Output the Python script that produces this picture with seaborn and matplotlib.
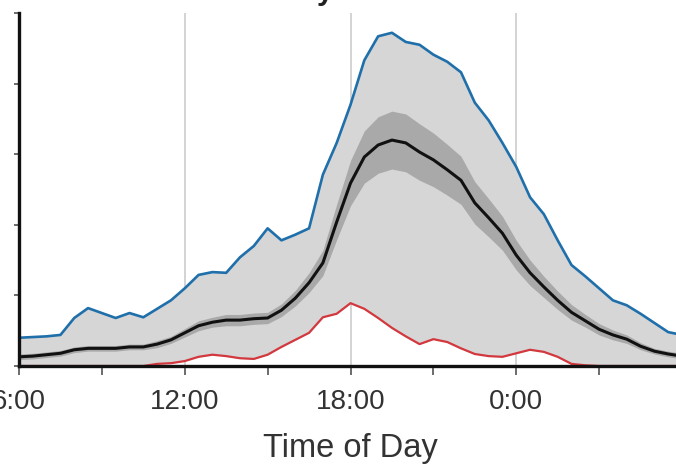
import numpy as np
import pandas as pd
import matplotlib
matplotlib.use("Agg")
import matplotlib.pyplot as plt
import seaborn as sns

# time of day in hours, 6:00 through 6:00 next day (30 = 6:00)
hours = [6.0 + 0.5 * i for i in range(49)]

# upper envelope (blue)
upper = [0.40, 0.41, 0.42, 0.44, 0.68, 0.82, 0.75, 0.68, 0.75, 0.69,
         0.81, 0.93, 1.10, 1.29, 1.33, 1.32, 1.54, 1.70, 1.95, 1.78,
         1.86, 1.95, 2.71, 3.16, 3.70, 4.33, 4.67, 4.72, 4.59, 4.55,
         4.41, 4.31, 4.16, 3.73, 3.48, 3.16, 2.82, 2.39, 2.15, 1.78,
         1.43, 1.27, 1.10, 0.93, 0.86, 0.74, 0.61, 0.48, 0.44]

# central line (black)
center = [0.13, 0.14, 0.16, 0.18, 0.23, 0.25, 0.25, 0.25, 0.27, 0.27,
          0.31, 0.37, 0.47, 0.57, 0.62, 0.65, 0.65, 0.67, 0.68, 0.79,
          0.96, 1.18, 1.46, 2.04, 2.59, 2.96, 3.13, 3.20, 3.16, 3.03,
          2.92, 2.78, 2.63, 2.31, 2.10, 1.88, 1.57, 1.32, 1.12, 0.93,
          0.76, 0.64, 0.52, 0.44, 0.38, 0.28, 0.21, 0.17, 0.14]

# half width of the dark band around the central line
band = [0.04, 0.04, 0.04, 0.04, 0.04, 0.04, 0.04, 0.04, 0.04, 0.04,
        0.05, 0.05, 0.06, 0.07, 0.07, 0.08, 0.08, 0.08, 0.08, 0.09,
        0.11, 0.14, 0.18, 0.25, 0.32, 0.37, 0.40, 0.41, 0.41, 0.40,
        0.38, 0.36, 0.34, 0.30, 0.27, 0.24, 0.21, 0.18, 0.15, 0.13,
        0.11, 0.09, 0.08, 0.07, 0.06, 0.05, 0.04, 0.04, 0.04]

# lower envelope (red)
lower = [0.0, 0.0, 0.0, 0.0, 0.0, 0.0, 0.0, 0.0, 0.0, 0.0,
         0.03, 0.04, 0.07, 0.13, 0.16, 0.14, 0.11, 0.10, 0.16, 0.27,
         0.37, 0.47, 0.69, 0.74, 0.89, 0.81, 0.68, 0.54, 0.42, 0.31,
         0.38, 0.34, 0.25, 0.17, 0.14, 0.13, 0.18, 0.23, 0.20, 0.13,
         0.03, 0.01, 0.0, 0.0, 0.0, 0.0, 0.0, 0.0, 0.0]

major_ticks = [6, 12, 18, 24]
major_labels = ["6:00", "12:00", "18:00", "0:00"]
minor_ticks = [9, 15, 21, 27]
y_ticks = [0, 1, 2, 3, 4, 5]

df = pd.DataFrame({"hour": hours, "upper": upper, "center": center,
                   "band": band, "lower": lower})

sns.set_style("white")
plt.rcParams["font.family"] = ["Liberation Sans", "DejaVu Sans"]

fig = plt.figure(figsize=(6.76, 4.67), dpi=100)
ax = fig.add_axes([19 / 676, 101 / 467, 663 / 676, 353 / 467])

ax.fill_between(df.hour, df.lower, df.upper, color="#d6d6d6", lw=0, zorder=1)
ax.fill_between(df.hour, df.center - df.band, df.center + df.band,
                color="#a9a9a9", lw=0, zorder=1.2)

sns.lineplot(data=df, x="hour", y="upper", ax=ax, color="#1f6fab", lw=1.9, zorder=3)
sns.lineplot(data=df, x="hour", y="lower", ax=ax, color="#d2383e", lw=1.6, zorder=3)
sns.lineplot(data=df, x="hour", y="center", ax=ax, color="#111111", lw=2.2, zorder=3)

ax.set_xlim(6, 30)
ax.set_ylim(0, 5)
ax.set_xticks(major_ticks)
ax.set_xticklabels(major_labels)
ax.set_xticks(minor_ticks, minor=True)
ax.set_yticks(y_ticks)
ax.set_yticklabels([""] * len(y_ticks))

ax.grid(axis="x", which="major", color="#d0d0d0", lw=1.3, zorder=0)
ax.set_axisbelow(True)

for side in ["top", "right"]:
    ax.spines[side].set_visible(False)
for side in ["left", "bottom"]:
    ax.spines[side].set_color("#111111")
    ax.spines[side].set_linewidth(2.4)
    ax.spines[side].set_zorder(4)

ax.tick_params(axis="x", which="both", direction="out", length=6.5, width=1.1,
               color="#444444", labelsize=20, labelcolor="#333333", pad=10,
               bottom=True)
ax.tick_params(axis="y", direction="out", length=3.6, width=1.1,
               color="#444444", left=True)

ax.set_xlabel("Time of Day", fontsize=23.5, color="#333333", labelpad=13)
ax.set_ylabel("")

fig.text(335 / 676, 1 + 1 / 467, "Weekday", ha="right", va="baseline",
         fontsize=22, fontweight="bold", color="#222222")

fig.savefig("out.png", dpi=100)
